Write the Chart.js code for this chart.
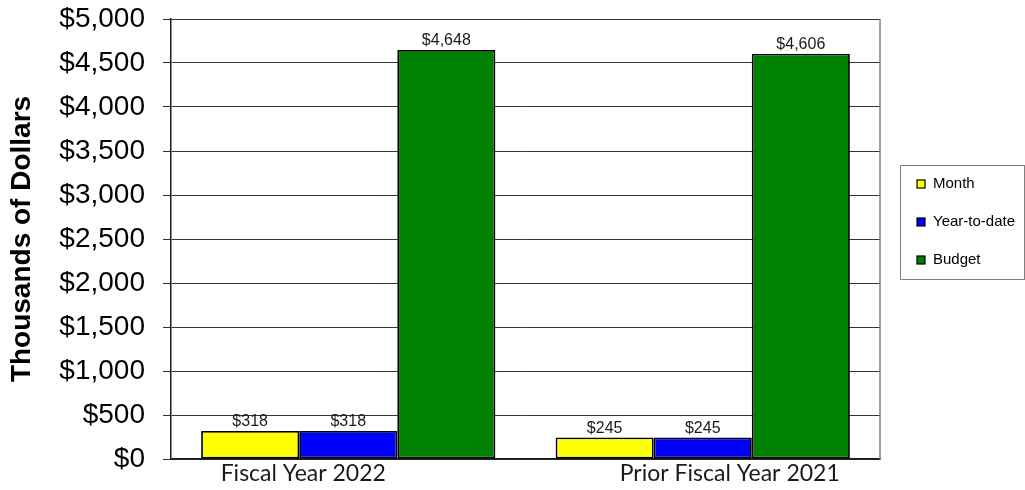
<!DOCTYPE html>
<html>
<head>
<meta charset="utf-8">
<script src="https://cdn.jsdelivr.net/npm/chart.js@4.4.0/dist/chart.umd.min.js"></script>
<style>
  html, body { margin: 0; padding: 0; background: #ffffff; }
  #wrap { width: 1025px; height: 490px; position: relative; }
</style>
</head>
<body>
<div id="wrap"><canvas id="budget-chart"></canvas></div>
<script>
const categories = ['Fiscal Year 2022', 'Prior Fiscal Year 2021'];
const monthValues = [318, 245];
const ytdValues = [318, 245];
const budgetValues = [4648, 4606];
const yTicks = [0, 500, 1000, 1500, 2000, 2500, 3000, 3500, 4000, 4500, 5000];

// category labels sit a little off the group centres
const xLabelShift = [-45, 27];

function money(v) {
    return '$' + Number(v).toLocaleString('en-US');
}

// value labels above every bar
const barLabels = {
    id: 'barLabels',
    afterDatasetsDraw(chart) {
        const ctx = chart.ctx;
        ctx.save();
        ctx.font = '16px "Liberation Sans", Arial, sans-serif';
        ctx.fillStyle = '#1a1a1a';
        ctx.textAlign = 'center';
        ctx.textBaseline = 'bottom';
        chart.data.datasets.forEach((ds, i) => {
            chart.getDatasetMeta(i).data.forEach((bar, j) => {
                ctx.fillText(money(ds.data[j]), bar.x, bar.y - 1);
            });
        });
        ctx.restore();
    }
};

// category names under the axis, right border and legend box
const frame = {
    id: 'frame',
    afterDraw(chart) {
        const ctx = chart.ctx;
        const area = chart.chartArea;
        const xs = chart.scales.x;
        ctx.save();

        ctx.strokeStyle = '#808080';
        ctx.lineWidth = 1.5;
        ctx.beginPath();
        ctx.moveTo(area.right, area.top);
        ctx.lineTo(area.right, area.bottom);
        ctx.stroke();

        ctx.font = '23px Lato, "Open Sans", sans-serif';
        ctx.fillStyle = '#1a1a1a';
        ctx.textAlign = 'center';
        ctx.textBaseline = 'alphabetic';
        categories.forEach((c, i) => {
            ctx.fillText(c, xs.getPixelForValue(i) + xLabelShift[i], area.bottom + 22);
        });

        const bx = 900, by = 165, bw = 124, bh = 114;
        ctx.strokeStyle = '#808080';
        ctx.lineWidth = 1;
        ctx.strokeRect(bx + 0.5, by + 0.5, bw, bh);
        ctx.font = '15px "Liberation Sans", Arial, sans-serif';
        ctx.textAlign = 'left';
        ctx.textBaseline = 'middle';
        chart.data.datasets.forEach((ds, i) => {
            const cy = 184 + i * 38;
            ctx.fillStyle = ds.backgroundColor;
            ctx.fillRect(917, cy - 4, 8, 8);
            ctx.strokeStyle = '#000000';
            ctx.lineWidth = 1.2;
            ctx.strokeRect(917, cy - 4, 8, 8);
            ctx.fillStyle = '#000000';
            ctx.fillText(ds.label, 933, cy);
        });
        ctx.restore();
    }
};

const ctx = document.getElementById('budget-chart');
new Chart(ctx, {
    type: 'bar',
    data: {
        labels: categories,
        datasets: [{
            label: 'Month',
            data: monthValues,
            backgroundColor: '#ffff00',
        }, {
            label: 'Year-to-date',
            data: ytdValues,
            backgroundColor: '#0000ff',
        }, {
            label: 'Budget',
            data: budgetValues,
            backgroundColor: '#008000',
        }]
    },
    options: {
        responsive: true,
        maintainAspectRatio: false,
        animation: false,
        layout: {
            padding: { top: 19, right: 145, bottom: 0, left: 0 }
        },
        datasets: {
            bar: {
                borderColor: '#000000',
                borderWidth: 1.8,
                borderSkipped: false,
                categoryPercentage: 0.83,
                barPercentage: 1.0,
            }
        },
        scales: {
            x: {
                offset: true,
                grid: { display: false },
                border: { color: '#1a1a1a', width: 1.5 },
                ticks: { display: false },
                afterFit(scale) { scale.height = 31; }
            },
            y: {
                min: 0,
                max: 5000,
                afterBuildTicks(scale) {
                    scale.ticks = yTicks.map(v => ({ value: v }));
                },
                grid: {
                    color: '#333333',
                    lineWidth: 1,
                    tickLength: 8,
                },
                border: { color: '#1a1a1a', width: 1.5 },
                ticks: {
                    padding: 18,
                    color: '#000000',
                    font: { family: '"Liberation Sans", Arial, sans-serif', size: 28 },
                    callback: v => money(v),
                },
                title: {
                    display: true,
                    text: 'Thousands of Dollars',
                    color: '#000000',
                    font: { family: '"Liberation Sans", Arial, sans-serif', size: 28, weight: 'bold' },
                    padding: { top: 5, bottom: 0 },
                },
                afterFit(scale) {
                    scale.width = 171;
                    scale.paddingTop = 0;
                    scale.paddingBottom = 0;
                }
            }
        },
        plugins: {
            legend: { display: false },
            tooltip: { enabled: false },
        }
    },
    plugins: [barLabels, frame]
});
</script>
</body>
</html>
